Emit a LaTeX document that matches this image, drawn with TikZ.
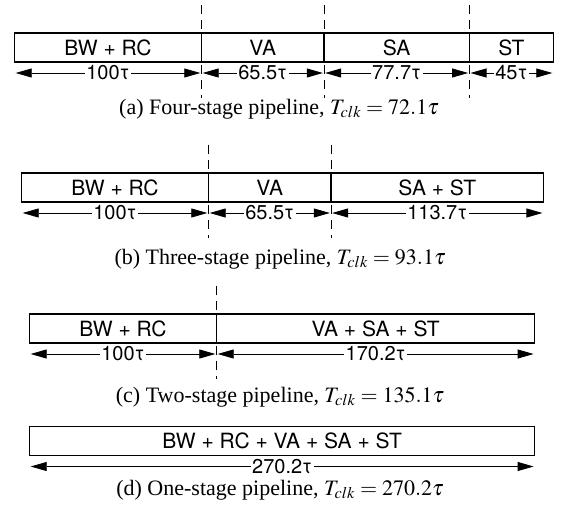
\documentclass[tikz,border=0pt]{standalone}
\usepackage{mathptmx}
\usepackage{fontspec}
\setmainfont{Liberation Serif}
\setsansfont{TeX Gyre Heros}
\usepackage{tikz}
\usetikzlibrary{arrows.meta}
\usetikzlibrary{positioning}

\begin{document}
\begin{tikzpicture}[x=1pt, y=-1pt]
\tikzset{StageStyle/.style = {draw, line width=1.1pt, outer sep=0pt, minimum height=29pt, inner sep=0pt, font=\sffamily\fontsize{21}{22}\selectfont}}
\tikzset{SpanStyle/.style = {{Triangle[length=16pt, width=9pt]}-{Triangle[length=16pt, width=9pt]}, line width=0.8pt, shorten <=1.2pt, shorten >=1.2pt}}
\tikzset{LabelStyle/.style = {fill=white, inner sep=1.5pt, font=\sffamily\fontsize{20}{21}\selectfont}}
\tikzset{CutStyle/.style = {line width=1pt, dash pattern=on 9pt off 6pt}}
\tikzset{CaptionStyle/.style = {font=\fontsize{22}{23}\selectfont}}
	\useasboundingbox (0,0) rectangle (561,510);

	\node[StageStyle, minimum width=187pt] (bw1) at (108, 47.5) {BW + RC};
	\node[StageStyle, minimum width=122.5pt] (va1) at (262.75, 47.5) {VA};
	\node[StageStyle, minimum width=145.3pt] (sa1) at (396.65, 47.5) {SA};
	\node[StageStyle, minimum width=84.2pt] (st1) at (511.4, 47.5) {ST};
	\draw[SpanStyle] ([yshift=-11pt]bw1.south west) -- node[LabelStyle]{100τ} ([yshift=-11pt]bw1.south east);
	\draw[SpanStyle] ([yshift=-11pt]va1.south west) -- node[LabelStyle]{65.5τ} ([yshift=-11pt]va1.south east);
	\draw[SpanStyle] ([yshift=-11pt]sa1.south west) -- node[LabelStyle]{77.7τ} ([yshift=-11pt]sa1.south east);
	\draw[SpanStyle] ([yshift=-11pt]st1.south west) -- node[LabelStyle]{45τ} ([yshift=-11pt]st1.south east);
	\draw[CutStyle] ([yshift=28pt]bw1.north east) -- ([yshift=-36pt]bw1.south east);
	\draw[CutStyle] ([yshift=28pt]va1.north east) -- ([yshift=-36pt]va1.south east);
	\draw[CutStyle] ([yshift=28pt]sa1.north east) -- ([yshift=-36pt]sa1.south east);
	\node[CaptionStyle] (cap1) at (279, 109) {(a) Four-stage pipeline, $T_{clk} = 72.1\tau$};

	\node[StageStyle, minimum width=187pt] (bw2) at (115, 187.5) {BW + RC};
	\node[StageStyle, minimum width=122.5pt] (va2) at (269.75, 187.5) {VA};
	\node[StageStyle, minimum width=212.6pt] (sa2) at (437.3, 187.5) {SA + ST};
	\draw[SpanStyle] ([yshift=-11pt]bw2.south west) -- node[LabelStyle]{100τ} ([yshift=-11pt]bw2.south east);
	\draw[SpanStyle] ([yshift=-11pt]va2.south west) -- node[LabelStyle]{65.5τ} ([yshift=-11pt]va2.south east);
	\draw[SpanStyle] ([yshift=-11pt]sa2.south west) -- node[LabelStyle]{113.7τ} ([yshift=-11pt]sa2.south east);
	\draw[CutStyle] ([yshift=28pt]bw2.north east) -- ([yshift=-36pt]bw2.south east);
	\draw[CutStyle] ([yshift=28pt]va2.north east) -- ([yshift=-36pt]va2.south east);
	\node[CaptionStyle] (cap2) at (280, 259) {(b) Three-stage pipeline, $T_{clk} = 93.1\tau$};

	\node[StageStyle, minimum width=187pt] (bw3) at (123, 328.5) {BW + RC};
	\node[StageStyle, minimum width=318.3pt] (va3) at (375.65, 328.5) {VA + SA + ST};
	\draw[SpanStyle] ([yshift=-11pt]bw3.south west) -- node[LabelStyle]{100τ} ([yshift=-11pt]bw3.south east);
	\draw[SpanStyle] ([yshift=-11pt]va3.south west) -- node[LabelStyle]{170.2τ} ([yshift=-11pt]va3.south east);
	\draw[CutStyle] ([yshift=28pt]bw3.north east) -- ([yshift=-36pt]bw3.south east);
	\node[CaptionStyle] (cap3) at (280, 397) {(c) Two-stage pipeline, $T_{clk} = 135.1\tau$};

	\node[StageStyle, minimum width=505.3pt] (bw4) at (282.15, 441) {BW + RC + VA + SA + ST};
	\draw[SpanStyle] ([yshift=-11pt]bw4.south west) -- node[LabelStyle]{270.2τ} ([yshift=-11pt]bw4.south east);
	\node[CaptionStyle] (cap4) at (280, 490) {(d) One-stage pipeline, $T_{clk} = 270.2\tau$};

\end{tikzpicture}
\end{document}
